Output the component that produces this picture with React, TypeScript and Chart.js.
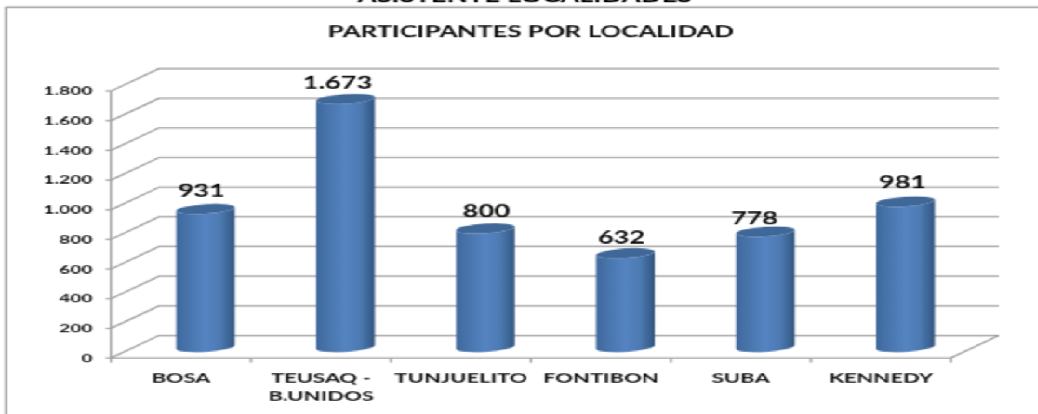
import React, { useEffect, useRef } from "react";
import { Chart, registerables } from "chart.js";

Chart.register(...registerables);

const categories: (string | string[])[] = ["BOSA", ["TEUSAQ -", "B.UNIDOS"], "TUNJUELITO", "FONTIBON", "SUBA", "KENNEDY"];
const participantes = [931, 1673, 800, 632, 778, 981];
const titleText = "PARTICIPANTES POR LOCALIDAD";
const clippedHeading = "ASISTENTE LOCALIDADES";
const labelShiftX = [-4, -8, 1, -4, -11, -3];
const labelShiftY = [-18, -16, -17, -15, -13, -19];

const SX = 1.86;
const SY = 1.2;
const W = 1038 / SX;
const H = 414 / SY;
const DEPTH_X = 48 / SX;
const DEPTH_Y = -22.5 / SY;
const BAR_X = 24.5 / SX;
const BAR_Y = -11 / SY;
const GRID = "#a2a2a2";
const FONT = "Lato, Carlito, sans-serif";

const formatThousands = (v: number) => (v >= 1000 ? `${Math.floor(v / 1000)}.${String(v % 1000).padStart(3, "0")}` : String(v));

const pseudo3d = {
  id: "pseudo3d",
  beforeDatasetsDraw(chart: any) {
    const { ctx, chartArea: a, scales } = chart;
    const y = scales.y;
    const x = scales.x;
    ctx.save();
    // page frame
    ctx.strokeStyle = "#9a9a9a";
    ctx.lineWidth = 1.3;
    ctx.beginPath();
    ctx.moveTo(3.3, H);
    ctx.lineTo(3.3, 6.2);
    ctx.stroke();
    ctx.strokeStyle = "#8a8a8a";
    ctx.lineWidth = 1.2;
    ctx.beginPath();
    ctx.moveTo(2.7, 6.2);
    ctx.lineTo(W, 6.2);
    ctx.stroke();
    // heading cut off by the crop
    ctx.fillStyle = "#000";
    ctx.font = `bold 14.7px ${FONT}`;
    ctx.textAlign = "center";
    ctx.textBaseline = "alphabetic";
    ctx.fillText(clippedHeading, 525 / SX, 2.2);
    // walls
    ctx.strokeStyle = GRID;
    ctx.lineWidth = 1.25;
    y.ticks.forEach((t: any) => {
      const py = y.getPixelForValue(t.value);
      ctx.beginPath();
      ctx.moveTo(a.left - 3, py);
      ctx.lineTo(a.left, py);
      ctx.lineTo(a.left + DEPTH_X, py + DEPTH_Y);
      ctx.lineTo(a.right + DEPTH_X, py + DEPTH_Y);
      ctx.stroke();
    });
    ctx.beginPath();
    ctx.moveTo(a.left, a.top);
    ctx.lineTo(a.left, a.bottom);
    ctx.lineTo(a.right, a.bottom);
    ctx.lineTo(a.right + DEPTH_X, a.bottom + DEPTH_Y);
    ctx.stroke();
    for (let i = 0; i <= categories.length; i++) {
      const px = x.getPixelForValue(i - 0.5);
      ctx.beginPath();
      ctx.moveTo(px, a.bottom);
      ctx.lineTo(px, a.bottom + 4);
      ctx.stroke();
    }
    ctx.restore();
  },
  afterDatasetsDraw(chart: any) {
    const { ctx } = chart;
    const meta = chart.getDatasetMeta(0);
    const rot = -0.1;
    meta.data.forEach((el: any, i: number) => {
      const cx = el.x + BAR_X;
      const rx = el.width / 2;
      const ry = 4.8 / SY;
      const top = el.y + BAR_Y;
      const bottom = el.base + BAR_Y;
      const g = ctx.createLinearGradient(cx - rx, 0, cx + rx, 0);
      g.addColorStop(0, "#3f689c");
      g.addColorStop(0.15, "#4672a8");
      g.addColorStop(0.5, "#5584c2");
      g.addColorStop(0.75, "#4d7ab2");
      g.addColorStop(0.92, "#3a6291");
      g.addColorStop(1, "#31527a");
      ctx.save();
      ctx.fillStyle = g;
      ctx.beginPath();
      ctx.ellipse(cx, bottom, rx, ry, rot, 0, Math.PI, false);
      ctx.ellipse(cx, top, rx, ry, rot, Math.PI, 0, true);
      ctx.closePath();
      ctx.fill();
      ctx.fillStyle = "#3f6899";
      ctx.beginPath();
      ctx.ellipse(cx, top, rx, ry, rot, 0, Math.PI * 2);
      ctx.fill();
      ctx.fillStyle = "#0a0a0a";
      ctx.font = `bold 14.6px ${FONT}`;
      ctx.textAlign = "center";
      ctx.textBaseline = "middle";
      ctx.fillText(formatThousands(participantes[i]), cx + labelShiftX[i] / SX, top + labelShiftY[i] / SY);
      ctx.restore();
    });
  },
};

export default function App() {
  const ref = useRef<HTMLCanvasElement>(null);
  useEffect(() => {
    const chart = new Chart(ref.current!, {
      type: "bar",
      data: {
        labels: categories as any,
        datasets: [
          {
            label: "Participantes",
            data: participantes,
            backgroundColor: "rgba(0,0,0,0)",
            barPercentage: 59 / 140,
            categoryPercentage: 1,
          },
        ],
      },
      options: {
        responsive: false,
        animation: false,
        devicePixelRatio: 1,
        layout: { padding: { left: 0, top: 0, right: 87 / SX, bottom: 0 } },
        plugins: {
          legend: { display: false },
          tooltip: { enabled: false },
          title: {
            display: true,
            fullSize: false,
            text: titleText,
            color: "#0a0a0a",
            font: { family: FONT, size: 13.9, weight: "bold", lineHeight: 1.2 },
            padding: { top: 32 / SY - 8.3, bottom: 91 / SY - (32 / SY + 8.3) },
          },
        },
        scales: {
          x: {
            grid: { display: false, drawTicks: false },
            border: { display: false },
            ticks: {
              color: "#111",
              padding: 8.5,
              autoSkip: false,
              maxRotation: 0,
              font: { family: FONT, size: 11.8, weight: "bold", lineHeight: 1.34 },
            },
            afterFit(s: any) {
              s.height = (414 - 358) / SY;
            },
          },
          y: {
            min: 0,
            max: 1800,
            grid: { display: false, drawTicks: false },
            border: { display: false },
            ticks: {
              stepSize: 200,
              color: "#111",
              padding: 10,
              font: { family: FONT, size: 10.3, weight: "bold" },
              callback: (v: any) => formatThousands(Number(v)),
            },
            afterFit(s: any) {
              s.width = 111 / SX;
            },
          },
        },
      },
      plugins: [pseudo3d],
    } as any);
    return () => chart.destroy();
  }, []);
  return (
    <div style={{ position: "fixed", left: 0, top: 0, width: W, height: H, transformOrigin: "0 0", transform: `scale(${SX}, ${SY})`, background: "#fff" }}>
      <canvas ref={ref} width={Math.round(W)} height={Math.round(H)} />
    </div>
  );
}
